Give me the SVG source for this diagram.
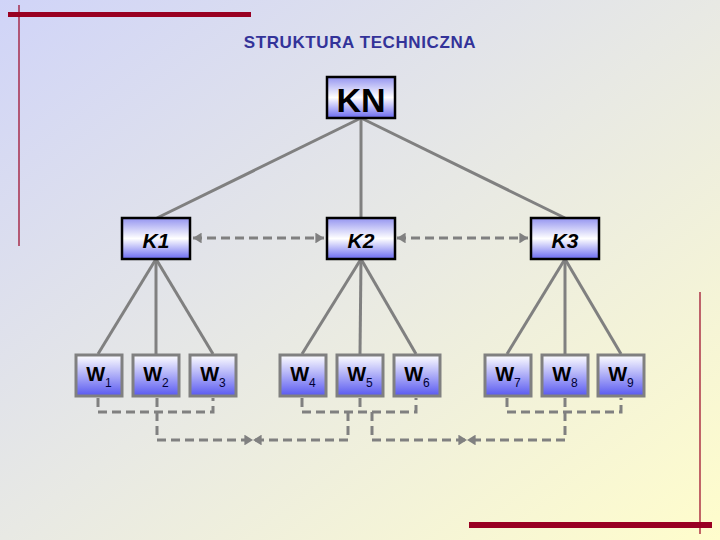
<svg xmlns="http://www.w3.org/2000/svg" width="720" height="540" viewBox="0 0 720 540">
<defs>
<linearGradient id="bg" x1="0" y1="0" x2="1" y2="1">
<stop offset="0" stop-color="#d0d4f8"/>
<stop offset="0.5" stop-color="#e8e9e4"/>
<stop offset="1" stop-color="#fffdcc"/>
</linearGradient>
<linearGradient id="kg" x1="0" y1="0" x2="0" y2="1">
<stop offset="0" stop-color="#9494f0"/>
<stop offset="0.5" stop-color="#ffffff"/>
<stop offset="1" stop-color="#6a6af0"/>
</linearGradient>
<linearGradient id="wg" x1="0" y1="0" x2="0" y2="1">
<stop offset="0" stop-color="#ffffff"/>
<stop offset="1" stop-color="#5858f0"/>
</linearGradient>
<marker id="ah" viewBox="0 0 8 10" refX="8" refY="5" markerWidth="3" markerHeight="3.6" orient="auto-start-reverse" markerUnits="strokeWidth">
<path d="M0,0 L8,5 L0,10 Z" fill="#808080"/>
</marker>
<style>
.k rect{fill:url(#kg);stroke:#000;stroke-width:2.5}
.kt{font-family:"Liberation Sans",Arial,sans-serif;font-style:italic;font-weight:bold;font-size:21px;fill:#000;text-anchor:middle}
.w rect{fill:url(#wg);stroke:#808080;stroke-width:3}
.wt{font-family:"Liberation Sans",Arial,sans-serif;font-weight:bold;font-size:20px;fill:#000;text-anchor:middle}
.sub{font-weight:normal;font-size:12px;fill:#000033}
.solid line{stroke:#808080;stroke-width:3}
.dash{fill:none;stroke:#808080;stroke-width:3;stroke-dasharray:9 5}
</style>
</defs>
<rect width="720" height="540" fill="url(#bg)"/>
<g id="decor">
<rect x="8" y="12" width="243" height="5" fill="#990022"/>
<line x1="19" y1="5" x2="19" y2="246" stroke="#990022" stroke-width="1.2"/>
<rect x="469" y="522" width="243" height="6" fill="#990022"/>
<line x1="700" y1="292" x2="700" y2="534" stroke="#990022" stroke-width="1.2"/>
</g>
<text x="360" y="48" font-family="'Liberation Sans',Arial,sans-serif" font-weight="bold" font-size="17" letter-spacing="0.6" fill="#333399" text-anchor="middle">STRUKTURA TECHNICZNA</text>
<g id="connectors">
<g class="solid">
<line x1="361" y1="118" x2="157" y2="218"/>
<line x1="361" y1="118" x2="361" y2="218"/>
<line x1="361" y1="118" x2="565" y2="218"/>
<line x1="156" y1="259" x2="98" y2="354"/>
<line x1="156" y1="259" x2="156" y2="354"/>
<line x1="156" y1="259" x2="213" y2="354"/>
<line x1="361" y1="259" x2="302" y2="354"/>
<line x1="361" y1="259" x2="360" y2="354"/>
<line x1="361" y1="259" x2="416" y2="354"/>
<line x1="565" y1="259" x2="507" y2="354"/>
<line x1="565" y1="259" x2="565" y2="354"/>
<line x1="565" y1="259" x2="621" y2="354"/>
</g>
<path class="dash" d="M193,238 H324" marker-start="url(#ah)" marker-end="url(#ah)"/>
<path class="dash" d="M397,238 H528" marker-start="url(#ah)" marker-end="url(#ah)"/>
<path class="dash" d="M98,398 V412 H213 V398"/>
<path class="dash" d="M157,398 V440 H253" marker-end="url(#ah)"/>
<path class="dash" d="M302,398 V412 H416 V398"/>
<path class="dash" d="M360,398 V412"/>
<path class="dash" d="M348,412 V440 H253" marker-end="url(#ah)"/>
<path class="dash" d="M372,412 V440 H467" marker-end="url(#ah)"/>
<path class="dash" d="M507,398 V412 H621 V398"/>
<path class="dash" d="M565,398 V440 H467" marker-end="url(#ah)"/>
</g>
<g id="KN" class="k"><rect x="327" y="77" width="68" height="41"/><text x="361" y="112" font-family="'Liberation Sans',Arial,sans-serif" font-weight="bold" font-size="34" text-anchor="middle">KN</text></g>
<g id="K1" class="k"><rect x="122" y="218" width="68" height="41"/><text class="kt" x="156" y="248">K1</text></g>
<g id="K2" class="k"><rect x="327" y="218" width="68" height="41"/><text class="kt" x="361" y="248">K2</text></g>
<g id="K3" class="k"><rect x="531" y="218" width="68" height="41"/><text class="kt" x="565" y="248">K3</text></g>
<g id="W1" class="w"><rect x="76" y="355" width="46" height="41"/><text class="wt" x="99" y="381">W<tspan class="sub" dy="6">1</tspan></text></g>
<g id="W2" class="w"><rect x="133" y="355" width="46" height="41"/><text class="wt" x="156" y="381">W<tspan class="sub" dy="6">2</tspan></text></g>
<g id="W3" class="w"><rect x="190" y="355" width="46" height="41"/><text class="wt" x="213" y="381">W<tspan class="sub" dy="6">3</tspan></text></g>
<g id="W4" class="w"><rect x="280" y="355" width="46" height="41"/><text class="wt" x="303" y="381">W<tspan class="sub" dy="6">4</tspan></text></g>
<g id="W5" class="w"><rect x="337" y="355" width="46" height="41"/><text class="wt" x="360" y="381">W<tspan class="sub" dy="6">5</tspan></text></g>
<g id="W6" class="w"><rect x="394" y="355" width="46" height="41"/><text class="wt" x="417" y="381">W<tspan class="sub" dy="6">6</tspan></text></g>
<g id="W7" class="w"><rect x="485" y="355" width="46" height="41"/><text class="wt" x="508" y="381">W<tspan class="sub" dy="6">7</tspan></text></g>
<g id="W8" class="w"><rect x="542" y="355" width="46" height="41"/><text class="wt" x="565" y="381">W<tspan class="sub" dy="6">8</tspan></text></g>
<g id="W9" class="w"><rect x="598" y="355" width="46" height="41"/><text class="wt" x="621" y="381">W<tspan class="sub" dy="6">9</tspan></text></g>
</svg>
